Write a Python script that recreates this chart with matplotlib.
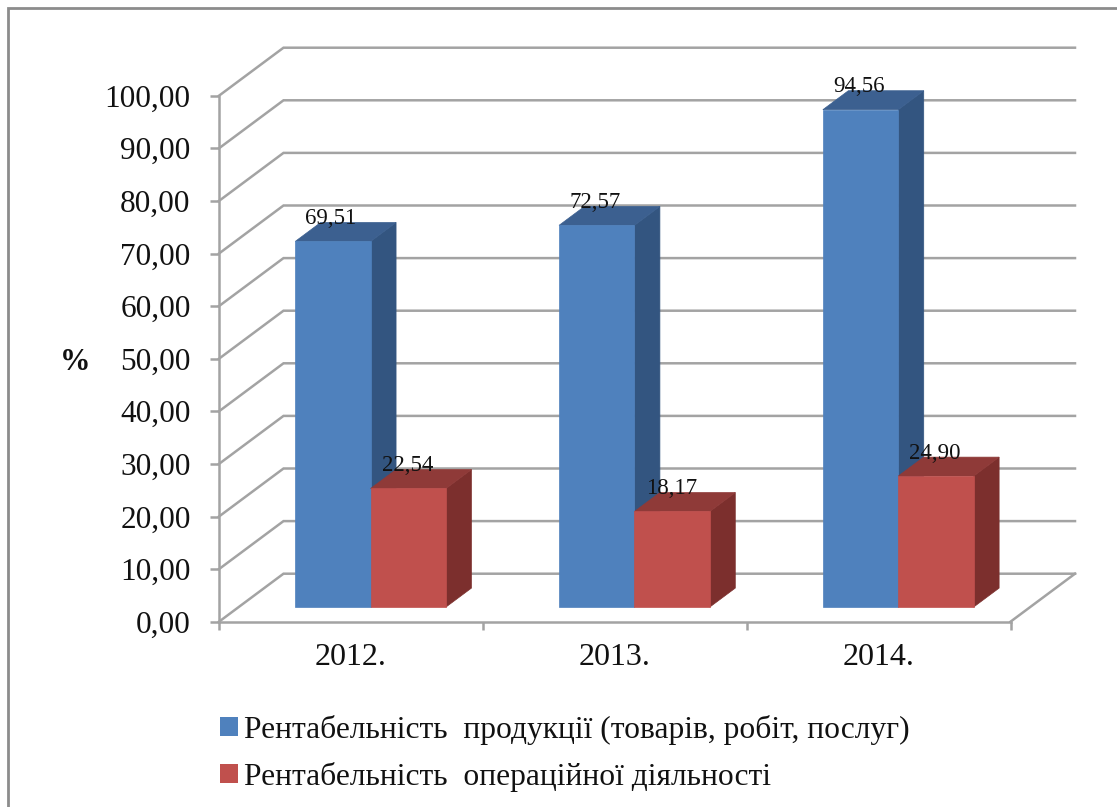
import matplotlib
matplotlib.use("Agg")
import matplotlib.pyplot as plt
from matplotlib.patches import Polygon, Patch, Rectangle

categories = ["2012.", "2013.", "2014."]
series_names = ["Рентабельність  продукції (товарів, робіт, послуг)",
                "Рентабельність  операційної діяльності"]
product_values = [69.51, 72.57, 94.56]
operating_values = [22.54, 18.17, 24.90]
value_labels_product = ["69,51", "72,57", "94,56"]
value_labels_operating = ["22,54", "18,17", "24,90"]
y_ticks = [0, 10, 20, 30, 40, 50, 60, 70, 80, 90, 100]
y_tick_labels = ["0,00", "10,00", "20,00", "30,00", "40,00", "50,00",
                 "60,00", "70,00", "80,00", "90,00", "100,00"]

W, H = 1117, 807
plt.rcParams["font.family"] = ["Liberation Serif", "DejaVu Serif"]
fig = plt.figure(figsize=(W / 100, H / 100), dpi=100, facecolor="white")

# outer chart frame
fig.add_artist(Rectangle((8 / W, -0.02), (W + 20) / W, 1.01 - 8 / H + 0.01,
                         transform=fig.transFigure, fill=False,
                         edgecolor="#8c8c8c", linewidth=2))

L, R, T, B = 219.0, 1010.5, 95.7, 621.7
ax = fig.add_axes([L / W, 1 - B / H, (R - L) / W, (B - T) / H])
ax.set_xlim(0, 3)
ax.set_ylim(0, 100)
ax.patch.set_alpha(0)

GRID = "#a3a3a3"
LW = 1.8
DX = 64.5 / ((R - L) / 3)   # full depth, in category units
DY = 48 / ((B - T) / 100)   # full depth, in value units
BAR_W = 1 / 3.5
D0, D1 = 0.305, 0.70        # bar's front and back depth fractions

# walls
for v in y_ticks:
    ax.plot([0, DX, 3 + DX], [v, v + DY, v + DY], color=GRID, lw=LW,
            clip_on=False, zorder=1, solid_joinstyle="miter")
ax.plot([3, 3 + DX], [0, DY], color=GRID, lw=LW, clip_on=False, zorder=1)

for s in ("top", "right"):
    ax.spines[s].set_visible(False)
for s in ("left", "bottom"):
    ax.spines[s].set_color(GRID)
    ax.spines[s].set_linewidth(LW)
    ax.spines[s].set_zorder(2)

ax.set_yticks(y_ticks, y_tick_labels)
ax.tick_params(axis="y", length=6.5, width=LW, color=GRID, labelsize=22.5,
               pad=14, labelcolor="#111111")
ax.set_xticks([0.5, 1.5, 2.5], categories)
ax.set_xticks([0, 1, 2, 3], minor=True)
ax.tick_params(axis="x", which="major", length=0, labelsize=23, pad=15.5,
               labelcolor="#111111")
ax.tick_params(axis="x", which="minor", length=5.5, width=LW, color=GRID)


def bar3d(x0, value, front, top, side, z):
    x1 = x0 + BAR_W
    fx, fy = DX * D0, DY * D0
    bx, by = DX * D1, DY * D1
    ax.add_patch(Polygon([(x1 + fx, fy), (x1 + bx, by), (x1 + bx, value + by),
                          (x1 + fx, value + fy)], closed=True, fc=side, ec=side,
                         lw=0.5, clip_on=False, zorder=z))
    ax.add_patch(Polygon([(x0 + fx, value + fy), (x0 + bx, value + by),
                          (x1 + bx, value + by), (x1 + fx, value + fy)],
                         closed=True, fc=top, ec=top, lw=0.5, clip_on=False,
                         zorder=z))
    ax.add_patch(Polygon([(x0 + fx, fy), (x1 + fx, fy), (x1 + fx, value + fy),
                          (x0 + fx, value + fy)], closed=True, fc=front, ec=front,
                         lw=0.5, clip_on=False, zorder=z + 0.1))
    return x0 + fx + BAR_W / 2, value + fy


BLUE = ("#4f81bd", "#3c6090", "#335580")
RED = ("#c0504d", "#8f3a38", "#7c2f2d")

for i in range(len(categories)):
    x_blue = i + 0.5 - BAR_W
    x_red = i + 0.5
    cx, cy = bar3d(x_blue, product_values[i], *BLUE, 3)
    ax.annotate(value_labels_product[i], (cx, cy), xytext=(-2, 23),
                textcoords="offset pixels", ha="center", va="center",
                fontsize=16.5, color="#111111", zorder=6, annotation_clip=False)
    cx, cy = bar3d(x_red, operating_values[i], *RED, 4)
    ax.annotate(value_labels_operating[i], (cx, cy), xytext=(-1, 23),
                textcoords="offset pixels", ha="center", va="center",
                fontsize=16.5, color="#111111", zorder=6, annotation_clip=False)

fig.text(75 / W, 1 - 363 / H, "%", fontsize=22, fontweight="bold",
         ha="center", va="center", color="#111111")

handles = [Patch(fc=BLUE[0], ec="none"), Patch(fc=RED[0], ec="none")]
fig.legend(handles, series_names, loc="upper left",
           bbox_to_anchor=(207 / W, 1 - 702 / H), frameon=False, fontsize=22.65,
           handlelength=0.57, handleheight=0.57, handletextpad=0.2,
           labelspacing=0.55, borderpad=0.4, borderaxespad=0,
           labelcolor="#111111")

fig.savefig("out.png", dpi=100)
